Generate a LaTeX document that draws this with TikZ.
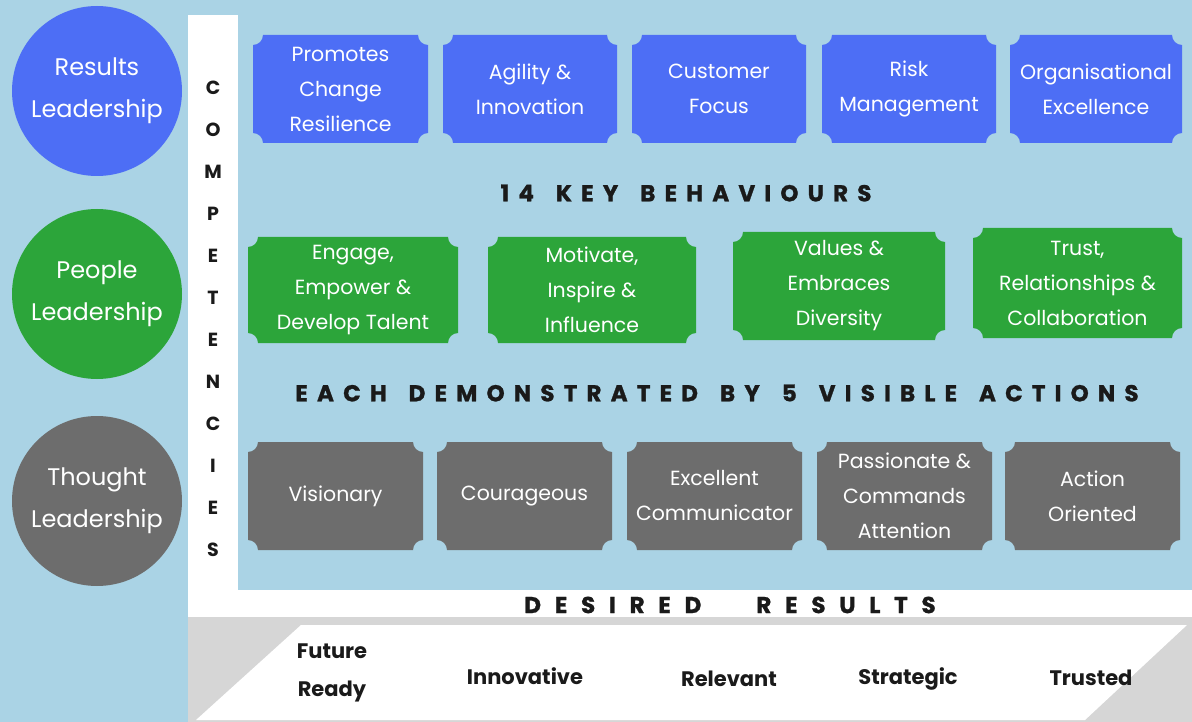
\documentclass[tikz,border=0pt]{standalone}
\usepackage{fontspec}
\setmainfont{Poppins}
\newfontfamily\headfont{Poppins}[LetterSpace=40, BoldFeatures={FakeBold=1.2}]
\newfontfamily\headfontwide{Poppins}[LetterSpace=60, BoldFeatures={FakeBold=1.2}]
\definecolor{bg}{HTML}{AAD3E5}
\definecolor{cblue}{HTML}{4D6EF5}
\definecolor{cgreen}{HTML}{2CA53A}
\definecolor{cgrey}{HTML}{6D6D6D}
\definecolor{bandgrey}{HTML}{D6D6D6}
\definecolor{ink}{HTML}{1A1A1A}
\newcommand\tbox[7]{% name, x1,y1,x2,y2, colour, text
  \fill[#6] (#2+10,#3) -- (#4-10,#3) arc[start angle=180,end angle=270,radius=10pt]
    -- (#4,#5-10) arc[start angle=90,end angle=180,radius=10pt]
    -- (#2+10,#5) arc[start angle=0,end angle=90,radius=10pt]
    -- (#2,#3+10) arc[start angle=-90,end angle=0,radius=10pt] -- cycle;
  \node[boxtext] (#1) at ({(#2+#4)/2},{(#3+#5)/2}) {#7};
}
\tikzset{
  boxtext/.style={text=white, align=center, font=\fontsize{20.5}{35}\selectfont, inner sep=0pt},
  circ/.style={circle, minimum size=170pt, inner sep=0pt, text=white, align=center,
    font=\fontsize{24}{42}\selectfont},
  head/.style={text=ink, font=\headfont\bfseries\fontsize{23}{26}\selectfont, inner sep=0pt},
  headwide/.style={text=ink, font=\headfontwide\bfseries\fontsize{23}{26}\selectfont, inner sep=0pt},
  comp/.style={text=ink, font=\bfseries\fontsize{19}{20}\selectfont, inner sep=0pt},
  result/.style={text=ink, align=center, font=\bfseries\fontsize{21}{38}\selectfont, inner sep=0pt}
}
\begin{document}
\begin{tikzpicture}[x=1pt,y=-1pt]
\fill[bg] (0,0) rectangle (1192,722);
\useasboundingbox (0,0) rectangle (1192,722);
% white L frame
\fill[white] (188,15) rectangle (238,617);
\fill[white] (188,590) rectangle (1192,617);
\fill[bandgrey] (188,617) rectangle (1192,722);
\fill[white] (301,625) -- (1187,625) -- (1085,720) -- (196,720) -- cycle;
% circles
\node[circ, fill=cblue] (rl) at (97,91) {Results\\Leadership};
\node[circ, fill=cgreen] (pl) at (97,294) {People\\Leadership};
\node[circ, fill=cgrey] (tl) at (97,501) {Thought\\Leadership};
% COMPETENCIES
\foreach \l [count=\i from 0] in {C,O,M,P,E,T,E,N,C,I,E,S}
  \node[comp] (comp\i) at (213,{88+42*\i}) {\l};
% blue row
\tbox{b1}{253}{35}{428}{143}{cblue}{Promotes\\Change\\Resilience}
\tbox{b2}{443}{35}{617}{143}{cblue}{Agility \&\\Innovation}
\tbox{b3}{632}{35}{806}{143}{cblue}{Customer\\Focus}
\tbox{b4}{822}{35}{996}{143}{cblue}{Risk\\Management}
\tbox{b5}{1010}{35}{1182}{143}{cblue}{Organisational\\Excellence}
% green row
\tbox{g1}{248}{237}{458}{343}{cgreen}{Engage,\\Empower \&\\Develop Talent}
\tbox{g2}{488}{237}{696}{343}{cgreen}{Motivate,\\Inspire \&\\Influence}
\tbox{g3}{733}{232}{945}{340}{cgreen}{Values \&\\Embraces\\Diversity}
\tbox{g4}{973}{228}{1182}{338}{cgreen}{Trust,\\Relationships \&\\Collaboration}
% grey row
\tbox{r1}{248}{442}{423}{550}{cgrey}{Visionary}
\tbox{r2}{437}{442}{612}{550}{cgrey}{Courageous}
\tbox{r3}{627}{442}{802}{550}{cgrey}{Excellent\\Communicator}
\tbox{r4}{817}{442}{992}{550}{cgrey}{Passionate \&\\Commands\\Attention}
\tbox{r5}{1005}{442}{1180}{550}{cgrey}{Action\\Oriented}
% headings
\node[head] (h1) at (686,193) {14\hspace{22pt}KEY\hspace{22pt}BEHAVIOURS};
\node[head] (h2) at (717,393) {EACH\hspace{22pt}DEMONSTRATED\hspace{22pt}BY\hspace{22pt}5\hspace{22pt}VISIBLE\hspace{22pt}ACTIONS};
\node[headwide] (h3) at (730,605) {DESIRED\hspace{55pt}RESULTS};
% results
\node[result] (f1) at (332,673) {Future\\Ready};
\node[result] (f2) at (525,676) {Innovative};
\node[result] (f3) at (729,679) {Relevant};
\node[result] (f4) at (908,679) {Strategic};
\node[result] (f5) at (1091,678) {Trusted};
\end{tikzpicture}
\end{document}
